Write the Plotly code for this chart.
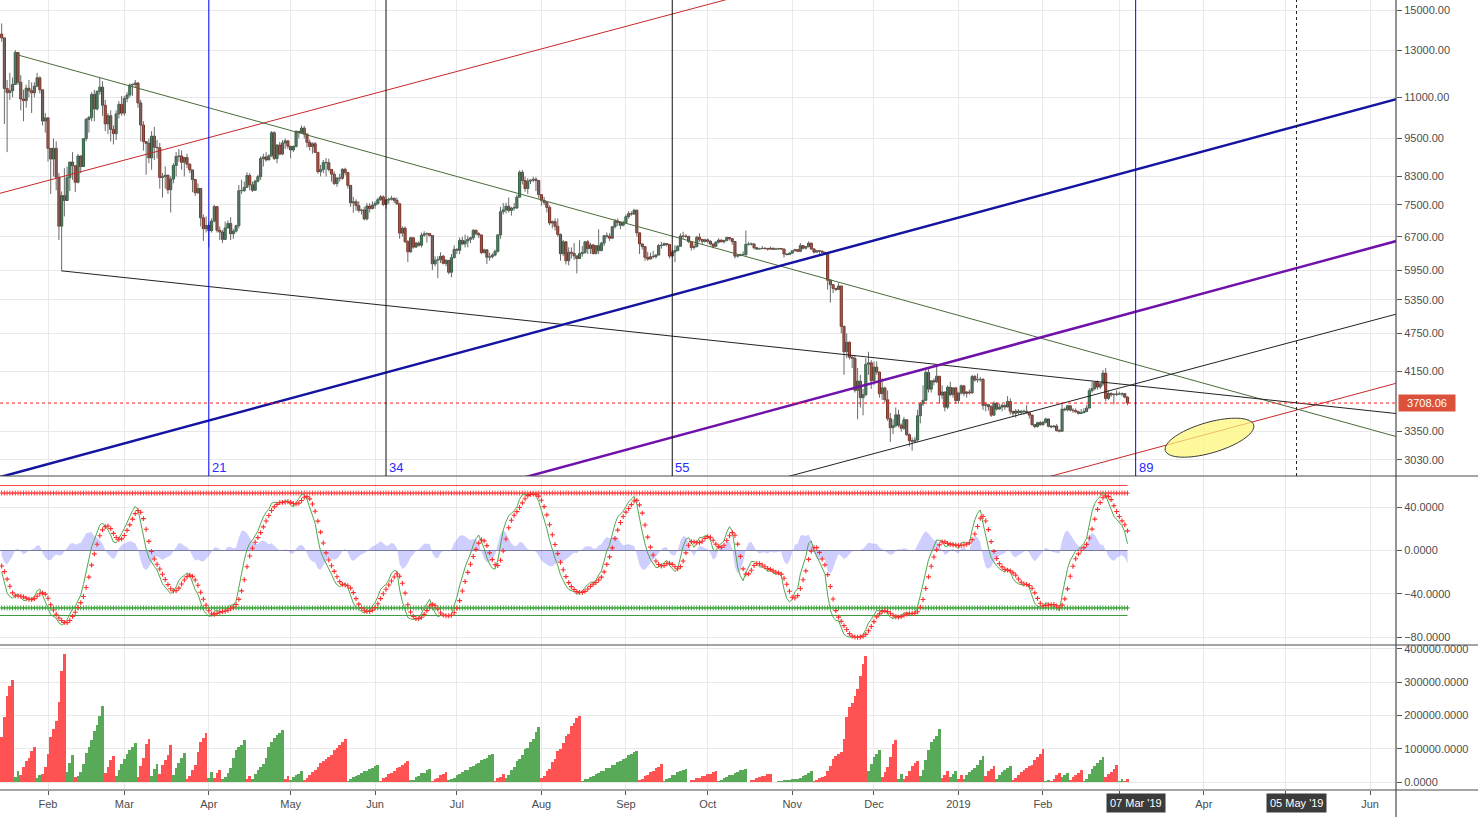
import math
import numpy as np
import pandas as pd
import plotly.graph_objects as go

# ---------------------------------------------------------------- data
START = "2018-01-15"
# closes before the visible window (only used to warm up the oscillator)
warmup_close = [10975, 11074, 11323, 11657, 11916, 14291, 17899, 16570, 15178, 15455,
                16936, 17415, 16408, 16564, 17706, 19497, 19140, 19114, 17776, 16624,
                15802, 13831, 14699, 13925, 14026, 16099, 15838, 14606, 14656, 12952, 14156,
                13657, 14982, 15201, 15599, 17429, 17527, 16477, 15170, 14595, 14973,
                13405, 13980, 14360, 13772]

close_m = [
    [13585, 11349, 11180, 11256, 11514, 12900, 11600, 10930, 10868, 11360, 11260, 11174, 11440, 11787, 11296, 10107, 10221],
    [9171, 8830, 9174, 8277, 6955, 7754, 7621, 8265, 8736, 8621, 8129, 8926, 8598, 9494, 10166, 10233, 11112, 10551, 11225, 11403, 10690, 10005, 10301, 9813, 9664, 10366, 10725, 10397],
    [10951, 11086, 11489, 11512, 11573, 10779, 9965, 9395, 9337, 8866, 9578, 9205, 9194, 8269, 8300, 8338, 7916, 8223, 8630, 8913, 8929, 8728, 8879, 8668, 8495, 8209, 7833, 7954, 7165, 6891, 6973],
    [6844, 7083, 7456, 6853, 6811, 6636, 6911, 7023, 6770, 6834, 6968, 7889, 7895, 7986, 8329, 8058, 7902, 8163, 8294, 8845, 8895, 8802, 8931, 9697, 8845, 9281, 8987, 9348, 9419, 9240],
    [9119, 9235, 9744, 9700, 9858, 9654, 9373, 9234, 9325, 9043, 8441, 8504, 8723, 8716, 8510, 8368, 8094, 8250, 8247, 8514, 8418, 8041, 7557, 7587, 7480, 7355, 7368, 7136, 7472, 7406, 7494],
    [7541, 7643, 7720, 7514, 7633, 7653, 7679, 7624, 7532, 6786, 6906, 6582, 6349, 6675, 6456, 6550, 6499, 6734, 6769, 6776, 6729, 6083, 6163, 6173, 6249, 6093, 6157, 5903, 6218, 6404],
    [6385, 6614, 6529, 6597, 6639, 6673, 6857, 6773, 6741, 6329, 6394, 6228, 6238, 6276, 6359, 6742, 7321, 7370, 7466, 7354, 7419, 7418, 7711, 8424, 8181, 7951, 8166, 8193, 8218, 8180, 7780],
    [7625, 7567, 7434, 7033, 7068, 6951, 6753, 6306, 6579, 6149, 6339, 6316, 6257, 6199, 6308, 6335, 6580, 6423, 6506, 6309, 6488, 6377, 6548, 6723, 6710, 6664, 6941, 7081, 7048, 6978, 7037],
    [7194, 7273, 7261, 7361, 6793, 6529, 6468, 6226, 6187, 6240, 6239, 6276, 6492, 6500, 6536, 6518, 6254, 6343, 6378, 6475, 6716, 6710, 6707, 6583, 6447, 6468, 6686, 6635, 6589, 6625],
    [6590, 6528, 6475, 6569, 6620, 6581, 6612, 6681, 6654, 6586, 6252, 6263, 6283, 6285, 6521, 6526, 6527, 6442, 6412, 6420, 6429, 6424, 6409, 6431, 6406, 6413, 6423, 6412, 6298, 6286, 6317],
    [6372, 6398, 6361, 6491, 6431, 6468, 6547, 6415, 6342, 6375, 6363, 6337, 6316, 5738, 5648, 5575, 5554, 5623, 4871, 4451, 4602, 4365, 4347, 3880, 4009, 3780, 3820, 4257, 4279, 4017],
    [4214, 4140, 3834, 3913, 3752, 3509, 3397, 3421, 3556, 3427, 3390, 3495, 3313, 3243, 3236, 3252, 3545, 3697, 3745, 4134, 3896, 4014, 3998, 4079, 3815, 3857, 3654, 3923, 3821, 3913, 3742],
    [3843, 3943, 3837, 3857, 3845, 4076, 4026, 4030, 4035, 3678, 3687, 3661, 3552, 3706, 3630, 3655, 3678, 3657, 3729, 3601, 3576, 3604, 3585, 3600, 3602, 3583, 3552, 3434, 3411, 3458, 3434],
    [3462, 3504, 3414, 3407, 3418, 3362, 3355, 3629, 3620, 3672, 3617, 3611, 3595, 3574, 3583, 3598, 3643, 3875, 3905, 3990, 3926, 3971, 4124, 3769, 3838, 3820, 3828, 3826],
    [3829, 3834, 3787, 3708.06],
]
high_m = [
    [14300, 13600, 11700, 12000, 11800, 13000, 12900, 11900, 11300, 11500, 11700, 11600, 11600, 12000, 11850, 11300, 10400],
    [10250, 9100, 9500, 9400, 8400, 7870, 8550, 8600, 8740, 9050, 8600, 8990, 8950, 9500, 10220, 10300, 11200, 11300, 11280, 11800, 11650, 10900, 10400, 10500, 9950, 10500, 10850, 11050],
    [11050, 11200, 11550, 11550, 11700, 11600, 10900, 10100, 9400, 9500, 9750, 9900, 9450, 9350, 8400, 8600, 8350, 8300, 8700, 9050, 9150, 9100, 8900, 9000, 8700, 8500, 8200, 8100, 7950, 7250, 7200],
    [7050, 7150, 7500, 7450, 6950, 6860, 7070, 7100, 7180, 6890, 6990, 8050, 8200, 8150, 8420, 8400, 8150, 8200, 8350, 8920, 9000, 9050, 8980, 9750, 9750, 9300, 9380, 9450, 9500, 9450],
    [9230, 9270, 9780, 9750, 9950, 9930, 9660, 9460, 9370, 9380, 9050, 8650, 8800, 8860, 8840, 8500, 8450, 8280, 8380, 8550, 8560, 8420, 8040, 7720, 7650, 7600, 7400, 7450, 7550, 7550, 7600],
    [7600, 7700, 7770, 7760, 7660, 7700, 7750, 7700, 7700, 7560, 6950, 6950, 6620, 6700, 6680, 6580, 6590, 6800, 6830, 6800, 6790, 6740, 6250, 6250, 6340, 6280, 6190, 6170, 6300, 6500],
    [6430, 6680, 6700, 6750, 6720, 6700, 6870, 6860, 6810, 6750, 6420, 6400, 6330, 6320, 6400, 6760, 7450, 7550, 7560, 7700, 7450, 7550, 7780, 8480, 8490, 8300, 8250, 8220, 8290, 8280, 8180],
    [7760, 7720, 7560, 7490, 7100, 7150, 7150, 6780, 6620, 6580, 6450, 6450, 6550, 6260, 6620, 6480, 6600, 6620, 6550, 6530, 6500, 6880, 6580, 6740, 6800, 6780, 6960, 7130, 7150, 7050, 7090],
    [7250, 7340, 7330, 7400, 7380, 6800, 6540, 6480, 6350, 6330, 6370, 6300, 6530, 6580, 6560, 6540, 6530, 6400, 6500, 6500, 6780, 6820, 6760, 6720, 6580, 6540, 6720, 6780, 6640, 6650],
    [6660, 6620, 6530, 6600, 6660, 6630, 6620, 6700, 6680, 6660, 6590, 6300, 6310, 6360, 6850, 6580, 6560, 6550, 6460, 6440, 6480, 6450, 6440, 6470, 6440, 6440, 6440, 6430, 6420, 6320, 6340],
    [6380, 6420, 6400, 6550, 6500, 6480, 6590, 6560, 6420, 6390, 6380, 6380, 6350, 6330, 5760, 5650, 5580, 5680, 5620, 4880, 4750, 4620, 4400, 4400, 4200, 4100, 3900, 4350, 4450, 4320],
    [4300, 4300, 4150, 4050, 3930, 3880, 3580, 3500, 3650, 3620, 3450, 3530, 3500, 3330, 3280, 3290, 3620, 3720, 3950, 4180, 4190, 4020, 4050, 4250, 4080, 3950, 3860, 3950, 4000, 3920, 3930],
    [3860, 3960, 3950, 3870, 3890, 4100, 4100, 4120, 4070, 4050, 3720, 3700, 3680, 3730, 3720, 3700, 3700, 3690, 3800, 3770, 3600, 3630, 3630, 3620, 3620, 3680, 3600, 3560, 3440, 3470, 3480],
    [3480, 3520, 3510, 3430, 3430, 3440, 3380, 3720, 3650, 3680, 3680, 3640, 3640, 3610, 3630, 3640, 3680, 3910, 4000, 4000, 4020, 3990, 4170, 4200, 3880, 3850, 3840, 3880],
    [3860, 3850, 3840, 3800],
]
low_m = [
    [13400, 10000, 9050, 10900, 11000, 11500, 11500, 10500, 10100, 10600, 11000, 10400, 11000, 11400, 11150, 9950, 9700],
    [8750, 7800, 8300, 7900, 6620, 5920, 7200, 7760, 7880, 8200, 7850, 8100, 8400, 8600, 9400, 9700, 10100, 10100, 10500, 11100, 10300, 9750, 9650, 9400, 9300, 9450, 10200, 10300],
    [10300, 10800, 11000, 11050, 11400, 10600, 9400, 9100, 8350, 8700, 8500, 8800, 8850, 7950, 7700, 7950, 7800, 7300, 8100, 8300, 8750, 8500, 8300, 8550, 8400, 7850, 7750, 7800, 6950, 6600, 6800],
    [6450, 6800, 7050, 6800, 6620, 6550, 6630, 6900, 6620, 6650, 6800, 6900, 7800, 7850, 8000, 7900, 7850, 7900, 8120, 8200, 8600, 8750, 8800, 8900, 8800, 8700, 8950, 8950, 9150, 9150],
    [8850, 9050, 9200, 9500, 9700, 9500, 9200, 9100, 9000, 9030, 8380, 8300, 8400, 8300, 8450, 8150, 8050, 8000, 8150, 8200, 8330, 7950, 7450, 7300, 7350, 7300, 7250, 7100, 7100, 7300, 7380],
    [7400, 7500, 7610, 7470, 7400, 7530, 7620, 7550, 7500, 6650, 6700, 6550, 6120, 6330, 6420, 6440, 6470, 6450, 6700, 6560, 6700, 5950, 6030, 5780, 6100, 6070, 6030, 5860, 5800, 6200],
    [6300, 6300, 6500, 6450, 6450, 6550, 6620, 6730, 6670, 6300, 6320, 6080, 6150, 6200, 6250, 6330, 6650, 7250, 7280, 7300, 7220, 7350, 7400, 7700, 8070, 7860, 7800, 8080, 8130, 7880, 7680],
    [7480, 7500, 7300, 6980, 6900, 6850, 6700, 6150, 6250, 6070, 6050, 6200, 6170, 5880, 6200, 6240, 6300, 6300, 6300, 6290, 6290, 6300, 6360, 6480, 6660, 6600, 6650, 6900, 6960, 6880, 6950],
    [7030, 7140, 7220, 7250, 6700, 6300, 6400, 6150, 6150, 6200, 6200, 6200, 6270, 6420, 6480, 6470, 6200, 6240, 6120, 6360, 6460, 6650, 6670, 6550, 6380, 6400, 6450, 6580, 6530, 6560],
    [6540, 6500, 6430, 6460, 6540, 6560, 6540, 6590, 6610, 6510, 6200, 6220, 6260, 6270, 6260, 6490, 6490, 6400, 6390, 6400, 6410, 6400, 6380, 6400, 6390, 6390, 6400, 6390, 6220, 6270, 6280],
    [6300, 6360, 6340, 6340, 6400, 6400, 6450, 6390, 6310, 6340, 6300, 6320, 6280, 5550, 5300, 5480, 5520, 5540, 4750, 4100, 4350, 4330, 4200, 3850, 3500, 3650, 3550, 3800, 4100, 3900],
    [3950, 4100, 3780, 3750, 3720, 3480, 3230, 3320, 3400, 3400, 3350, 3370, 3300, 3180, 3130, 3220, 3230, 3450, 3670, 3750, 3850, 3850, 3950, 3980, 3700, 3760, 3600, 3630, 3800, 3780, 3700],
    [3700, 3820, 3800, 3780, 3820, 3830, 4000, 3990, 4000, 3620, 3600, 3610, 3530, 3550, 3610, 3620, 3600, 3620, 3650, 3560, 3530, 3520, 3560, 3560, 3560, 3570, 3510, 3420, 3390, 3400, 3420],
    [3420, 3450, 3400, 3390, 3400, 3350, 3340, 3350, 3600, 3600, 3600, 3580, 3580, 3560, 3570, 3590, 3590, 3640, 3850, 3880, 3890, 3900, 3940, 3730, 3750, 3790, 3690, 3800],
    [3820, 3800, 3770, 3680],
]

# wave-volume histogram (thousands), one list per wave: r = down wave, g = up wave
weis_waves = [
    ("r", [137, 197, 259, 289, 307]), ("g", [17, 35]), ("r", [23, 47, 63, 74, 95, 107]),
    ("g", [14, 23]), ("r", [26, 47, 86, 137, 161, 185, 241, 334, 385]), ("g", [32, 59, 83]),
    ("r", [17]), ("g", [20, 32, 56, 89, 107, 128, 155, 173, 200, 230]), ("r", [29, 47, 68, 80]),
    ("g", [20, 38, 56, 71, 86, 98, 107, 119]), ("r", [17, 50, 74, 116, 131]), ("g", [20, 41, 56]),
    ("r", [26, 53, 68, 83, 113]), ("g", [23, 44, 59, 74, 89]), ("r", [11, 20, 38, 53, 92, 122, 134, 149]),
    ("g", [14, 32]), ("r", [14, 29, 38]), ("g", [11, 17, 29, 44, 74, 98, 107, 113, 128]),
    ("r", [11, 20]), ("g", [11, 26, 38, 47, 56, 74, 107, 122, 134, 143, 149, 158]), ("r", [11, 20]),
    ("g", [6, 15, 21, 24, 33]),
    ("r", [7, 12, 22, 30, 36, 45, 58, 64, 71, 77, 83, 96, 104, 111, 122, 131]),
    ("g", [5, 9, 16, 19, 22, 29, 33, 35, 41, 44, 48, 51]),
    ("r", [4, 13, 17, 26, 29, 35, 44, 47, 53, 59, 63]),
    ("g", [6, 8, 16, 19, 27, 29, 36, 41]),
    ("r", [3, 11, 14, 21, 26, 31]),
    ("g", [7, 9, 14, 22, 24, 31, 36, 38, 47, 49, 56, 58, 66, 71, 74, 81, 85]),
    ("r", [5, 13, 17, 24]),
    ("g", [14, 22, 38, 45, 63, 70, 82, 99, 104, 122, 131, 152, 167]),
    ("r", [12, 18, 33, 41, 62, 71, 93, 101, 118, 140, 146, 168, 177, 192, 199]),
    ("g", [3, 9, 11, 17, 19, 26, 27, 33, 35, 42, 44, 51, 53, 61, 63, 71, 74, 82, 84, 90, 94]),
    ("r", [7, 11, 19, 22, 31, 35, 44, 47, 55]),
    ("g", [4, 11, 14, 21, 23, 31, 33, 37, 41]),
    ("r", [2, 7, 8, 13, 14, 19, 20, 25, 26, 31, 34]),
    ("g", [5, 7, 13, 15, 21, 22, 29, 31, 36, 37, 40]),
    ("r", [2, 7, 8, 13, 15, 19, 20, 24, 26]),
    ("g", [1, 2, 4, 4, 6, 7, 7, 9, 10, 11]),
    ("g", [14, 20, 23, 29, 35]),
    ("r", [5, 8, 14, 17, 20, 35, 50, 71, 80, 86, 92, 131, 197, 227, 239, 260, 281, 320, 356, 380]),
    ("g", [35, 56, 77, 86, 98]), ("r", [17, 32, 47, 77, 116, 128]), ("g", [11, 26]),
    ("r", [11, 20, 35, 50, 59, 65]), ("g", [20, 38, 68, 98, 122, 131, 140, 161]),
    ("r", [14, 23, 35]), ("g", [17, 26, 35]), ("r", [11, 23]),
    ("g", [11, 23, 32, 38, 44, 53, 68, 80]), ("r", [20, 35, 41, 50]),
    ("g", [11, 23, 32, 38, 44, 50]), ("r", [8, 14, 23, 32, 38, 44, 50, 53, 68, 77, 86, 101]),
    ("g", [5, 8]), ("r", [5, 11, 23, 29]), ("g", [17, 23, 29]), ("r", [8, 17, 23, 29, 38]),
    ("g", [5, 11, 26, 41, 50, 59, 68, 77]), ("r", [17, 26, 32, 41, 53]), ("g", [5, 11]), ("r", [5, 11]),
]

price_ticks = [15000, 13000, 11000, 9500, 8300, 7500, 6700, 5950, 5350, 4750, 4150, 3350, 3030]
osc_ticks = [40, 0, -40, -80]
vol_ticks = [400000, 300000, 200000, 100000, 0]
month_ticks = pd.date_range("2018-02-01", "2019-06-01", freq="MS")
month_text = ["Feb", "Mar", "Apr", "May", "Jun", "Jul", "Aug", "Sep", "Oct", "Nov", "Dec",
              "2019", "Feb", "", "Apr", "", "Jun"]
last_price = 3708.06

# drawings: (date1, price1, date2, price2, extend_left, extend_right)
trendlines = {
    "red_top":    ("2018-01-14 09:20", 7818, "2018-10-03 07:30", 15385, True, True),
    "red_bottom": ("2019-03-04 22:00", 3084, "2019-06-08 07:00", 3955, True, True),
    "green":      ("2018-01-21 00:00", 12783, "2019-06-08 07:00", 3312, False, True),
    "black_long": ("2018-02-06 03:00", 5933, "2019-06-08 07:00", 3581, False, True),
    "black_rise": ("2018-11-03 20:00", 2888, "2019-06-10 12:00", 5086, True, True),
    "blue":       ("2018-01-14 09:20", 2850, "2019-06-10 12:00", 10925, True, True),
    "purple":     ("2018-07-28 22:00", 2871, "2019-06-10 12:00", 6594, True, True),
}
fib_dates = ["2018-04-01", "2018-06-05", "2018-09-18", "2019-03-07"]
fib_labels = ["21", "34", "55", "89"]
dotted_date = "2019-05-05"

# ---------------------------------------------------------------- build
close = sum(close_m, [])
high = sum(high_m, [])
low = sum(low_m, [])
n = min(len(close), len(high), len(low))
c = np.array(close[:n], float)
h = np.array(high[:n], float)
l = np.array(low[:n], float)
o = np.concatenate([[warmup_close[-1]], c[:-1]])
h = np.maximum(h, np.maximum(o, c))
l = np.minimum(l, np.minimum(o, c))
dates = pd.date_range(START, periods=n, freq="D")

X_RANGE = ["2018-01-14 09:20", "2019-06-10 12:00"]
P_RANGE = [math.log10(2861), math.log10(15544)]


def ema(x, p):
    a = 2.0 / (p + 1)
    out = np.empty_like(x)
    out[0] = x[0]
    for i in range(1, len(x)):
        out[i] = a * x[i] + (1 - a) * out[i - 1]
    return out


ap = np.concatenate([np.array(warmup_close, float), (h + l + c) / 3.0])
esa = ema(ap, 10)
dev = ema(np.abs(ap - esa), 10)
ci = np.where(dev > 0, (ap - esa) / (0.015 * np.where(dev > 0, dev, 1.0)), 0.0)
tci = ema(ci, 21)
wt1 = tci[-n:]
wt2 = pd.Series(tci).rolling(4).mean().to_numpy()[-n:]

RED_V = "#ff5252"
GREEN_V = "#58aa58"
wv, wc = [], []
for col, vals in weis_waves:
    for v in vals:
        wv.append(v * 1000)
        wc.append(RED_V if col == "r" else GREEN_V)
m = min(n, len(wv))

fig = go.Figure()

# price panel ---------------------------------------------------------
wx, wy = [], []
for d_, hi, lo in zip(dates, h, l):
    wx += [d_, d_, None]
    wy += [lo, hi, None]
fig.add_trace(go.Scatter(x=wx, y=wy, mode="lines", line=dict(color="#6a6a6a", width=1),
                         xaxis="x", yaxis="y", hoverinfo="skip"))
body = np.maximum(np.abs(c - o), c * 0.0012)
up = c >= o
DAY = 86400000
for mask, fill, edge in [(up, "#3f8d5d", "#1d4a2e"), (~up, "#d2432c", "#5c1a10")]:
    fig.add_trace(go.Bar(x=dates[mask], y=body[mask], base=np.minimum(o, c)[mask],
                         width=0.8 * DAY, marker=dict(color=fill, line=dict(color=edge, width=0.8)),
                         xaxis="x", yaxis="y", hoverinfo="skip"))

line_style = {
    "red_top": ("#c62828", 1), "red_bottom": ("#c62828", 1), "green": ("#4b6b3a", 1),
    "black_long": ("#222222", 1), "black_rise": ("#222222", 1),
    "blue": ("#1414a0", 2.5), "purple": ("#7012aa", 2.5),
}
for key, (d1, p1, d2, p2, el, er) in trendlines.items():
    t1, t2 = pd.Timestamp(d1).value, pd.Timestamp(d2).value
    xs = ["2018-01-10" if el else d1, "2019-06-15" if er else d2]
    ys = [math.exp(math.log(p1) + (pd.Timestamp(xx).value - t1) / (t2 - t1) * (math.log(p2) - math.log(p1)))
          for xx in xs]
    col, w = line_style[key]
    fig.add_trace(go.Scatter(x=xs, y=ys, mode="lines", line=dict(color=col, width=w),
                             xaxis="x", yaxis="y", hoverinfo="skip"))

fig.add_trace(go.Scatter(x=X_RANGE, y=[last_price, last_price], mode="lines",
                         line=dict(color="#ff1a1a", width=1, dash="dot"), xaxis="x", yaxis="y",
                         hoverinfo="skip"))

# oscillator panel ----------------------------------------------------
fig.add_trace(go.Scatter(x=dates, y=wt1 - wt2, mode="lines", fill="tozeroy",
                         fillcolor="rgba(110,110,255,0.33)", line=dict(width=0, color="rgba(110,110,255,0.3)"),
                         xaxis="x2", yaxis="y2", hoverinfo="skip"))
xl = [X_RANGE[0], dates[-1]]
fig.add_trace(go.Scatter(x=xl, y=[0, 0], mode="lines", line=dict(color="#7a7aa0", width=1.2),
                         xaxis="x2", yaxis="y2", hoverinfo="skip"))
fig.add_trace(go.Scatter(x=xl, y=[60, 60], mode="lines", line=dict(color="#ff4040", width=1),
                         xaxis="x2", yaxis="y2", hoverinfo="skip"))
fig.add_trace(go.Scatter(x=xl, y=[-60, -60], mode="lines", line=dict(color="#3c9a3c", width=1),
                         xaxis="x2", yaxis="y2", hoverinfo="skip"))
for lvl, col in [(53, "#ff3b3b"), (-53, "#35a035")]:
    fig.add_trace(go.Scatter(x=dates, y=[lvl] * n, mode="markers",
                             marker=dict(symbol="cross-thin", size=3.5, line=dict(color=col, width=1)),
                             xaxis="x2", yaxis="y2", hoverinfo="skip"))
fig.add_trace(go.Scatter(x=dates, y=wt1, mode="lines", line=dict(color="#4fa84f", width=1),
                         xaxis="x2", yaxis="y2", hoverinfo="skip"))
fig.add_trace(go.Scatter(x=dates, y=wt2, mode="markers",
                         marker=dict(symbol="cross-thin", size=3.5, line=dict(color="#ff2e2e", width=1.1)),
                         xaxis="x2", yaxis="y2", hoverinfo="skip"))

# wave volume panel ---------------------------------------------------
fig.add_trace(go.Bar(x=dates[:m], y=wv[:m], width=DAY, marker=dict(color=wc[:m], line=dict(width=0)),
                     xaxis="x3", yaxis="y3", hoverinfo="skip"))

# ---------------------------------------------------------------- layout
PW, PH = 1396.0, 790.0
FONT = dict(family="Liberation Sans, Arial, sans-serif", size=11, color="#4d4d4d")
GRID = "#e9e9e9"


def yfrac(py):
    return 1 - py / PH


xcommon = dict(type="date", range=X_RANGE, tickvals=list(month_ticks), ticktext=month_text,
               showgrid=True, gridcolor=GRID, zeroline=False, showline=False, fixedrange=True)
yaxis_common = dict(side="right", showgrid=True, gridcolor=GRID, zeroline=False, showline=False,
                    ticks="outside", ticklen=5, tickcolor="#555", tickfont=FONT)

fig.update_layout(
    width=1478, height=817,
    margin=dict(l=0, r=82, t=0, b=27, autoexpand=False),
    paper_bgcolor="white", plot_bgcolor="white",
    showlegend=False, hovermode=False, barmode="overlay", bargap=0,
    font=FONT,
    xaxis=dict(xcommon, anchor="y", showticklabels=False),
    xaxis2=dict(xcommon, anchor="y2", matches="x", showticklabels=False),
    xaxis3=dict(xcommon, anchor="y3", matches="x", showticklabels=True, ticks="outside",
                ticklen=4, tickcolor="#555", tickfont=FONT),
    yaxis=dict(yaxis_common, type="log", range=P_RANGE, domain=[yfrac(476), 1],
               tickvals=price_ticks, ticktext=[f"{v:.2f}" for v in price_ticks], anchor="x"),
    yaxis2=dict(yaxis_common, range=[-87.2, 68.3], domain=[yfrac(645), yfrac(476.5)],
                tickvals=osc_ticks, ticktext=[f"{v:.4f}".replace("-", "\u2212") for v in osc_ticks],
                anchor="x2"),
    yaxis3=dict(yaxis_common, range=[-23000, 410000], domain=[0, yfrac(645.5)],
                tickvals=vol_ticks, ticktext=[f"{v:.4f}" for v in vol_ticks], anchor="x3"),
)

shapes = []
xr = 1478 / PW
for py in (476, 645, 790):
    shapes.append(dict(type="line", xref="paper", yref="paper", x0=0, x1=xr, y0=yfrac(py), y1=yfrac(py),
                       line=dict(color="#4a4a4a", width=1.2)))
shapes.append(dict(type="line", xref="paper", yref="paper", x0=1, x1=1, y0=yfrac(817), y1=1,
                   line=dict(color="#4a4a4a", width=1.2)))
for d_, lab in zip(fib_dates, fib_labels):
    col = "#0000ff" if lab in ("21", "89") else "#111111"
    shapes.append(dict(type="line", xref="x", yref="y domain", x0=d_, x1=d_, y0=0, y1=1,
                       line=dict(color=col, width=1)))
shapes.append(dict(type="line", xref="x", yref="y domain", x0=dotted_date, x1=dotted_date, y0=0, y1=1,
                   line=dict(color="#222222", width=1, dash="dot")))

# highlighted ellipse on the projected support line
cx, cy, ea, eb, th = 1209.5, 437.7, 46.0, 15.3, math.radians(16.2)
pts = []
for k in range(73):
    t = 2 * math.pi * k / 72
    px = cx + ea * math.cos(t) * math.cos(th) + eb * math.sin(t) * math.sin(th)
    py = cy - ea * math.cos(t) * math.sin(th) + eb * math.sin(t) * math.cos(th)
    pts.append(f"{px / PW:.5f},{yfrac(py):.5f}")
path = "M " + " L ".join(pts) + " Z"
shapes.append(dict(type="path", xref="paper", yref="paper", path=path, layer="above",
                   fillcolor="rgba(255,246,120,0.72)", line=dict(color="#3a3a3a", width=1)))
fig.update_layout(shapes=shapes)

ann = []
for d_, lab in zip(fib_dates, fib_labels):
    ann.append(dict(x=d_, xref="x", y=yfrac(467), yref="paper", text=lab, showarrow=False,
                    xanchor="left", yanchor="middle", xshift=1,
                    font=dict(family="Liberation Sans, Arial", size=13, color="#2a2aff")))
for d_, txt in [("2019-03-07", "07 Mar '19"), ("2019-05-05", "05 May '19")]:
    ann.append(dict(x=d_, xref="x", y=yfrac(803), yref="paper", text=txt, showarrow=False,
                    xanchor="center", yanchor="middle", bgcolor="#3b3b3b", borderpad=3,
                    font=dict(family="Liberation Sans, Arial", size=11, color="white")))
ann.append(dict(x=1, xref="paper", y=math.log10(last_price), yref="y", text=f"{last_price:.2f}",
                showarrow=False, xanchor="left", yanchor="middle", xshift=2, bgcolor="#dc513b",
                borderpad=2, width=52, font=dict(family="Liberation Sans, Arial", size=11, color="white")))
fig.update_layout(annotations=ann)

fig.write_html("out.html", config={"displayModeBar": False, "staticPlot": True},
               post_script="document.body.style.margin='0px';document.body.style.padding='0px';"
                           "document.body.style.overflow='hidden';")
